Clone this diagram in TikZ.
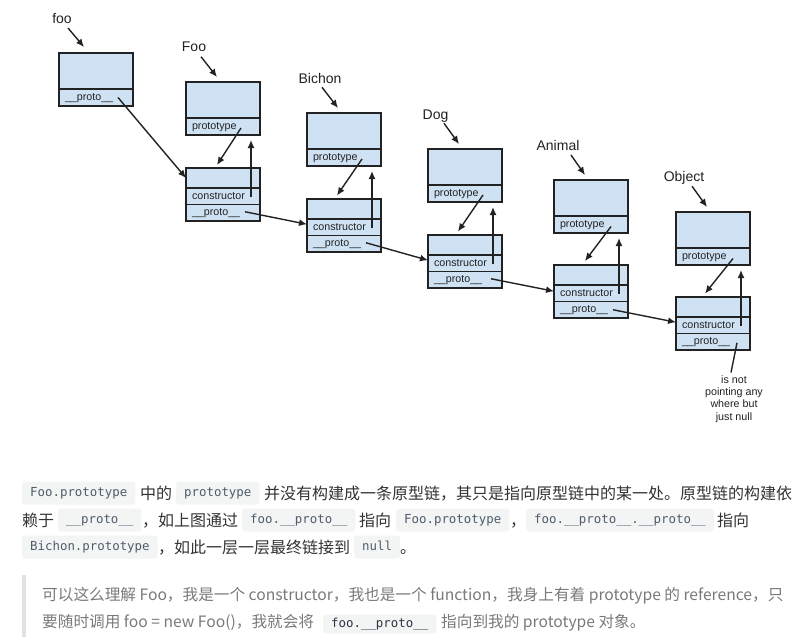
\documentclass[tikz,border=0pt]{standalone}
\usepackage{fontspec}
\setmainfont{Liberation Sans}
\newfontfamily\cjkfont{Noto Sans CJK SC}
\newfontfamily\codefont{DejaVu Sans Mono}
\usetikzlibrary{arrows.meta,calc,positioning}

\definecolor{boxfill}{HTML}{CFE2F3}
\definecolor{boxline}{HTML}{222222}
\definecolor{chipfill}{HTML}{F3F4F4}
\definecolor{chiptext}{HTML}{4E5D6C}
\definecolor{qchiptext}{HTML}{2B3540}
\definecolor{bodytext}{HTML}{333333}
\definecolor{quotetext}{HTML}{7A7A7A}
\definecolor{quotebar}{HTML}{DFE2E5}

\tikzset{
  ptr/.style={-{Latex[length=8pt,width=7pt]}, line width=1.4pt, draw=boxline},
  objbody/.style={draw=boxline, fill=boxfill, line width=1.5pt, minimum width=74pt, minimum height=36pt, inner sep=0pt, outer sep=0pt},
  ctorbody/.style={objbody, minimum height=20pt},
  objrow/.style={draw=boxline, fill=boxfill, line width=1.5pt, minimum height=16.5pt, text width=62pt, inner xsep=6pt, inner ysep=0pt, outer sep=0pt, align=left, text height=8pt, text depth=2.5pt, text=boxline, font=\fontsize{10.7}{12}\selectfont},
  toprow/.style={objrow, minimum height=17pt},
  objlabel/.style={anchor=base, inner sep=0pt, text=boxline, font=\fontsize{14}{16}\selectfont},
  nullnote/.style={anchor=north, inner sep=0pt, align=center, text=boxline, font=\fontsize{10.7}{12.2}\selectfont},
  chip/.style={fill=chipfill, rounded corners=3pt, minimum height=23pt, inner xsep=8pt, inner ysep=0pt, anchor=west, text height=9pt, text depth=3pt, text=chiptext, font=\codefont\fontsize{12.4}{14}\selectfont},
  qchip/.style={chip, minimum height=19pt, text=qchiptext},
  cjk/.style={anchor=base west, inner sep=0pt, text=bodytext, font=\cjkfont\fontsize{16}{20}\selectfont},
  quote/.style={anchor=base west, inner sep=0pt, text=quotetext, font=\cjkfont\fontsize{15.65}{20}\selectfont}
}

\begin{document}
\begin{tikzpicture}[x=1pt, y=-1pt]
  \fill[white] (0,0) rectangle (799,641);
  \useasboundingbox (0,0) rectangle (799,641);

  % objects: foo, Foo, Bichon, Dog, Animal, Object
  \node[objlabel] (fooLbl) at (62,23) {foo};
  \node[objbody, anchor=north west] (fooBody) at (59,53) {};
  \node[toprow, below=0pt of fooBody] (fooProto) {\_\_proto\_\_};

  \node[objlabel] (FooLbl) at (194,51.7) {Foo};
  \node[objbody, anchor=north west] (FooBody) at (186,82) {};
  \node[toprow, below=0pt of FooBody] (FooPrototype) {prototype};
  \node[ctorbody, anchor=north west] (FooCBody) at (186,168) {};
  \node[objrow, below=0pt of FooCBody] (FooCtor) {constructor};
  \node[objrow, below=0pt of FooCtor] (FooProto) {\_\_proto\_\_};

  \node[objlabel] (BichonLbl) at (320,83.3) {Bichon};
  \node[objbody, anchor=north west] (BichonBody) at (307,113) {};
  \node[toprow, below=0pt of BichonBody] (BichonPrototype) {prototype};
  \node[ctorbody, anchor=north west] (BichonCBody) at (307,199) {};
  \node[objrow, below=0pt of BichonCBody] (BichonCtor) {constructor};
  \node[objrow, below=0pt of BichonCtor] (BichonProto) {\_\_proto\_\_};

  \node[objlabel] (DogLbl) at (435.5,119.3) {Dog};
  \node[objbody, anchor=north west] (DogBody) at (428,149) {};
  \node[toprow, below=0pt of DogBody] (DogPrototype) {prototype};
  \node[ctorbody, anchor=north west] (DogCBody) at (428,235) {};
  \node[objrow, below=0pt of DogCBody] (DogCtor) {constructor};
  \node[objrow, below=0pt of DogCtor] (DogProto) {\_\_proto\_\_};

  \node[objlabel] (AnimalLbl) at (558,150) {Animal};
  \node[objbody, anchor=north west] (AnimalBody) at (554,180) {};
  \node[toprow, below=0pt of AnimalBody] (AnimalPrototype) {prototype};
  \node[ctorbody, anchor=north west] (AnimalCBody) at (554,265) {};
  \node[objrow, below=0pt of AnimalCBody] (AnimalCtor) {constructor};
  \node[objrow, below=0pt of AnimalCtor] (AnimalProto) {\_\_proto\_\_};

  \node[objlabel] (ObjectLbl) at (684,181.7) {Object};
  \node[objbody, anchor=north west] (ObjectBody) at (676,212) {};
  \node[toprow, below=0pt of ObjectBody] (ObjectPrototype) {prototype};
  \node[ctorbody, anchor=north west] (ObjectCBody) at (676,297) {};
  \node[objrow, below=0pt of ObjectCBody] (ObjectCtor) {constructor};
  \node[objrow, below=0pt of ObjectCtor] (ObjectProto) {\_\_proto\_\_};

  \node[nullnote] (nullNote) at (734,375.5) {is not\\pointing any\\where but\\just null};

  % label arrows
  \draw[ptr] ($(fooLbl.base)+(6,5)$) -- ($(fooBody.north west)+(25,-6)$);
  \draw[ptr] ($(FooLbl.base)+(7,5)$) -- ($(FooBody.north west)+(31,-5)$);
  \draw[ptr] ($(BichonLbl.base)+(2,4)$) -- ($(BichonBody.north west)+(31,-5)$);
  \draw[ptr] ($(DogLbl.base)+(8.5,4)$) -- ($(DogBody.north west)+(31,-5)$);
  \draw[ptr] ($(AnimalLbl.base)+(13,5)$) -- ($(AnimalBody.north west)+(31,-5)$);
  \draw[ptr] ($(ObjectLbl.base)+(8,4.5)$) -- ($(ObjectBody.north west)+(31,-5)$);

  % prototype -> constructor, constructor -> prototype
  \draw[ptr] ($(FooPrototype.west)+(55,1.5)$) -- ($(FooCBody.north west)+(31,-3)$);
  \draw[ptr] ($(FooCtor.west)+(65,1)$) -- ($(FooPrototype.south west)+(65,5)$);
  \draw[ptr] ($(BichonPrototype.west)+(55,1.5)$) -- ($(BichonCBody.north west)+(30,-3.5)$);
  \draw[ptr] ($(BichonCtor.west)+(65,1)$) -- ($(BichonPrototype.south west)+(65,5)$);
  \draw[ptr] ($(DogPrototype.west)+(55,1.5)$) -- ($(DogCBody.north west)+(30,-3.5)$);
  \draw[ptr] ($(DogCtor.west)+(65,1)$) -- ($(DogPrototype.south west)+(65,5)$);
  \draw[ptr] ($(AnimalPrototype.west)+(57,2)$) -- ($(AnimalCBody.north west)+(31,-4)$);
  \draw[ptr] ($(AnimalCtor.west)+(65,1)$) -- ($(AnimalPrototype.south west)+(65,5)$);
  \draw[ptr] ($(ObjectPrototype.west)+(57,2)$) -- ($(ObjectCBody.north west)+(29,-3.5)$);
  \draw[ptr] ($(ObjectCtor.west)+(65,1)$) -- ($(ObjectPrototype.south west)+(65,5)$);

  % __proto__ chain
  \draw[ptr] ($(fooProto.west)+(59,0)$) -- (FooCBody.west);
  \draw[ptr] ($(FooProto.west)+(59,-1)$) -- ($(BichonCtor.west)+(0,-3)$);
  \draw[ptr] ($(BichonProto.west)+(59,-1)$) -- ($(DogCtor.west)+(0,-3)$);
  \draw[ptr] ($(DogProto.west)+(63,-1)$) -- ($(AnimalCtor.west)+(0,-2)$);
  \draw[ptr] ($(AnimalProto.west)+(59,0)$) -- ($(ObjectCtor.west)+(0,-3)$);
  \draw[line width=1.4pt, draw=boxline] ($(ObjectProto.west)+(61,1)$) -- ($(nullNote.north)+(-3,-3)$);

  % paragraph
  \node[chip] (p1a) at (22,493) {Foo.prototype};
  \node[cjk] (p1b) at (140,499) {中的};
  \node[chip] (p1c) at (176,493) {prototype};
  \node[cjk] (p1d) at (264,499) {并没有构建成一条原型链，其只是指向原型链中的某一处。原型链的构建依};

  \node[cjk] (p2a) at (22,526) {赖于};
  \node[chip] (p2b) at (58,520) {\_\_proto\_\_};
  \node[cjk] (p2c) at (142,526) {，如上图通过};
  \node[chip] (p2d) at (242,520) {foo.\_\_proto\_\_};
  \node[cjk] (p2e) at (359,526) {指向};
  \node[chip] (p2f) at (396,520) {Foo.prototype};
  \node[cjk] (p2g) at (510,526) {，};
  \node[chip] (p2h) at (526,520) {foo.\_\_proto\_\_.\_\_proto\_\_};
  \node[cjk] (p2i) at (717,526) {指向};

  \node[chip] (p3a) at (22,547) {Bichon.prototype};
  \node[cjk] (p3b) at (158,553) {，如此一层一层最终链接到};
  \node[chip] (p3c) at (354,547) {null};
  \node[cjk] (p3d) at (400,553) {。};

  % quote
  \fill[quotebar] (22,575) rectangle (25.5,637);
  \node[quote] (q1) at (42,600) {可以这么理解 Foo，我是一个 constructor，我也是一个 function，我身上有着 prototype 的 reference，只};
  \node[quote] (q2a) at (42,627) {要随时调用 foo = new Foo()，我就会将};
  \node[qchip] (q2b) at (323,624) {foo.\_\_proto\_\_};
  \node[quote] (q2c) at (441,627) {指向到我的 prototype 对象。};
\end{tikzpicture}
\end{document}
